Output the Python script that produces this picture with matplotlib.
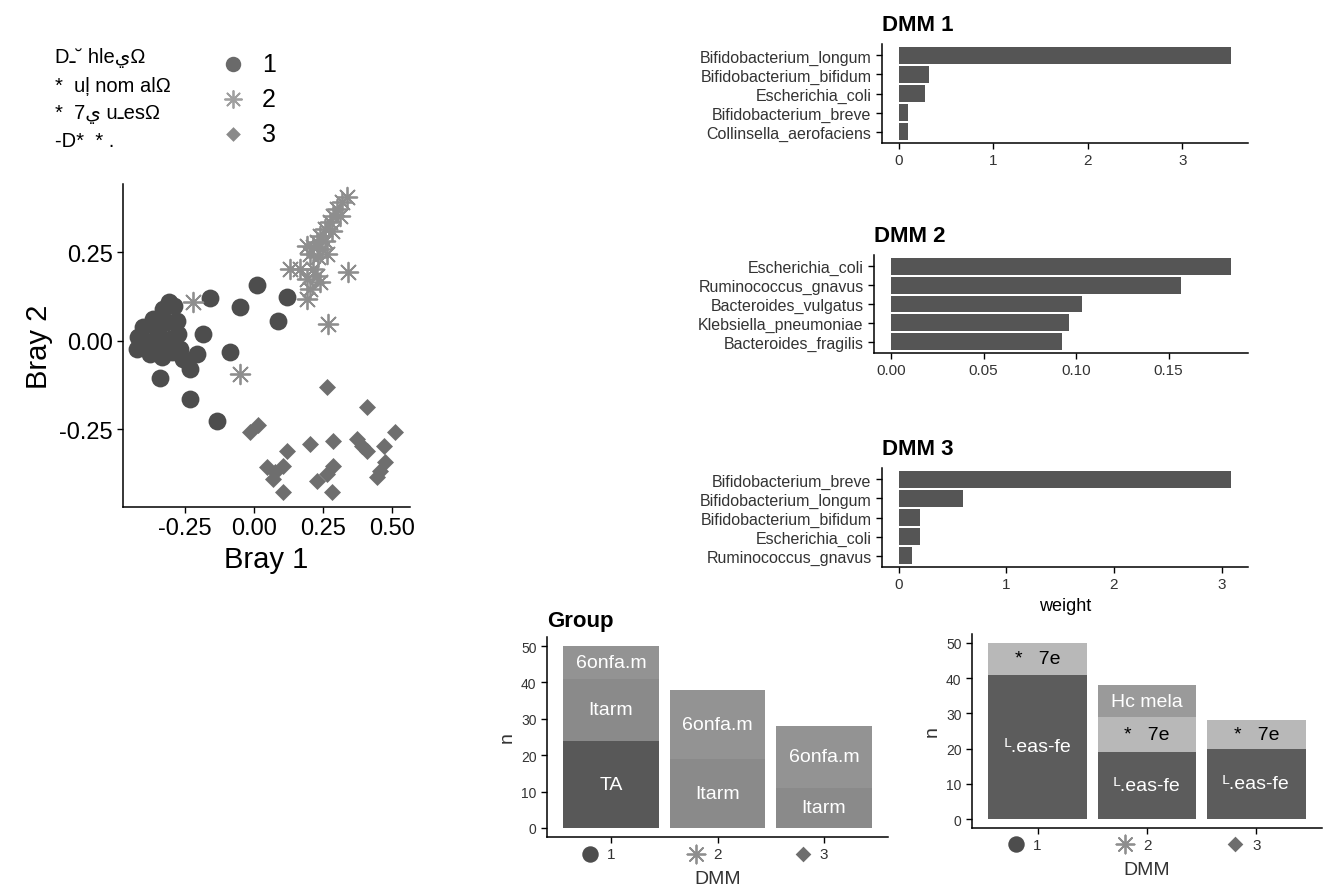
import matplotlib
matplotlib.use("Agg")
import matplotlib.pyplot as plt
import numpy as np

plt.rcParams["font.family"] = ["Liberation Sans", "DejaVu Sans"]

W, H = 1323, 895

# ordination coordinates per DMM cluster
bray1_dmm1 = [-0.419, -0.425, -0.401, -0.383, -0.377, -0.365, -0.347, -0.341, -0.335,
              -0.329, -0.316, -0.304, -0.298, -0.292, -0.280, -0.274, -0.268, -0.256,
              -0.310, 0.010, -0.159, -0.051, 0.118, 0.088, -0.184, -0.087, -0.208,
              -0.232, -0.341, -0.232, -0.135]
bray2_dmm1 = [0.010, -0.023, 0.039, -0.004, -0.037, 0.062, 0.024, -0.013, -0.046,
              0.090, 0.053, 0.006, -0.032, 0.100, 0.057, 0.020, -0.023, -0.051,
              0.109, 0.158, 0.121, 0.095, 0.123, 0.057, 0.020, -0.030, -0.037,
              -0.079, -0.105, -0.164, -0.227]
bray1_dmm2 = [0.336, 0.318, 0.300, 0.287, 0.312, 0.275, 0.257, 0.281, 0.239, 0.227,
              0.257, 0.215, 0.245, 0.203, 0.233, 0.263, 0.191, 0.130, 0.167, 0.215,
              0.191, 0.227, 0.203, 0.239, 0.342, 0.191, 0.269, -0.220, -0.051]
bray2_dmm2 = [0.406, 0.392, 0.373, 0.354, 0.354, 0.335, 0.316, 0.312, 0.298, 0.279,
              0.283, 0.265, 0.260, 0.246, 0.236, 0.246, 0.269, 0.203, 0.203, 0.203,
              0.175, 0.185, 0.147, 0.166, 0.194, 0.119, 0.048, 0.109, -0.093]
bray1_dmm3 = [0.263, 0.408, 0.016, -0.014, 0.203, 0.287, 0.372, 0.390, 0.408, 0.469,
              0.511, 0.118, 0.046, 0.076, 0.106, 0.070, 0.106, 0.227, 0.263, 0.287,
              0.281, 0.457, 0.444, 0.475]
bray2_dmm3 = [-0.131, -0.187, -0.237, -0.258, -0.291, -0.282, -0.277, -0.296, -0.310,
              -0.296, -0.258, -0.310, -0.357, -0.371, -0.352, -0.390, -0.427, -0.395,
              -0.376, -0.352, -0.427, -0.366, -0.385, -0.343]

# top taxa weights per DMM component (top to bottom)
taxa_dmm1 = ["Bifidobacterium_longum", "Bifidobacterium_bifidum", "Escherichia_coli",
             "Bifidobacterium_breve", "Collinsella_aerofaciens"]
weight_dmm1 = [3.52, 0.32, 0.28, 0.10, 0.10]
taxa_dmm2 = ["Escherichia_coli", "Ruminococcus_gnavus", "Bacteroides_vulgatus",
             "Klebsiella_pneumoniae", "Bacteroides_fragilis"]
weight_dmm2 = [0.1837, 0.1566, 0.1031, 0.0962, 0.0924]
taxa_dmm3 = ["Bifidobacterium_breve", "Bifidobacterium_longum", "Bifidobacterium_bifidum",
             "Escherichia_coli", "Ruminococcus_gnavus"]
weight_dmm3 = [3.09, 0.60, 0.20, 0.20, 0.126]

# sample counts per DMM, stacked bottom to top
dmm_levels = ["1", "2", "3"]
group_levels = ["TA", "Itarm", "6onfa.m"]
group_counts = [[24, 0, 0], [17, 19, 11], [9, 19, 17]]
group_colors = ["#585858", "#8a8a8a", "#939393"]
group_text = ["white", "white", "white"]

type_levels = ["ᴸ.eas-fe", "*   7e", "Hc mela"]
type_counts = [[41, 19, 20], [9, 10, 8], [0, 9, 0]]
type_colors = ["#5c5c5c", "#b8b8b8", "#9a9a9a"]
type_text = ["white", "black", "white"]

legend_lines = ["Dـ˘ hleيΩ", "*  uļ nom alΩ", "*  7ي uـesΩ", "-D*  * ."]

marker_kw = [dict(marker="o", s=165, color="#4d4d4d", linewidths=0),
             dict(marker=(8, 2, 0), s=200, color="#8e8e8e", linewidths=1.3),
             dict(marker="D", s=75, color="#6e6e6e", linewidths=0)]
legend_colors = ["#6a6a6a", "#a0a0a0", "#8a8a8a"]

fig = plt.figure(figsize=(W / 100, H / 100), dpi=100)


def px_axes(left, top, right, bottom):
    return fig.add_axes([left / W, 1 - bottom / H, (right - left) / W, (bottom - top) / H])


def classic(ax, size, color="black"):
    for side in ("top", "right"):
        ax.spines[side].set_visible(False)
    for side in ("left", "bottom"):
        ax.spines[side].set_linewidth(1.1)
    ax.tick_params(length=4, width=1, labelsize=size, labelcolor=color)


# ordination scatter
ax = px_axes(123, 185, 410, 508)
classic(ax, 17)
for bx, by, kw in zip([bray1_dmm1, bray1_dmm2, bray1_dmm3],
                      [bray2_dmm1, bray2_dmm2, bray2_dmm3], marker_kw):
    ax.scatter(bx, by, **kw)
ax.set_xlim(-0.475, 0.565)
ax.set_ylim(-0.469, 0.4435)
ax.set_xticks([-0.25, 0, 0.25, 0.5])
ax.set_yticks([-0.25, 0, 0.25])
ax.xaxis.set_major_formatter(matplotlib.ticker.FormatStrFormatter("%.2f"))
ax.yaxis.set_major_formatter(matplotlib.ticker.FormatStrFormatter("%.2f"))
ax.set_xlabel("Bray 1", fontsize=21)
ax.set_ylabel("Bray 2", fontsize=21)

# legend block
for i, line in enumerate(legend_lines):
    fig.text(55 / W, 1 - (58 + i * 28) / H, line, fontsize=14.5, va="center")
for i, lab in enumerate(dmm_levels):
    fig.text(262 / W, 1 - (65 + i * 35) / H, lab, fontsize=18, va="center")
lg_ax = px_axes(215, 45, 250, 150)
lg_ax.set_axis_off()
lg_ax.set_xlim(0, 1)
lg_ax.set_ylim(150, 45)
for i, kw in enumerate(marker_kw):
    kw = dict(kw, color=legend_colors[i], s=kw["s"] * 0.75)
    lg_ax.scatter([0.5], [65 + i * 35], clip_on=False, **kw)

# weight bar charts
bar_specs = [("DMM 1", taxa_dmm1, weight_dmm1, (882, 45, 1248, 144), [0, 1, 2, 3], "%d"),
             ("DMM 2", taxa_dmm2, weight_dmm2, (874, 256, 1248, 354), [0, 0.05, 0.10, 0.15], "%.2f"),
             ("DMM 3", taxa_dmm3, weight_dmm3, (882, 469, 1248, 568), [0, 1, 2, 3], "%d")]
for title, taxa, weight, rect, ticks, fmt in bar_specs:
    ax = px_axes(*rect)
    classic(ax, 11, "#333333")
    pos = np.arange(len(taxa))[::-1] + 1
    ax.barh(pos, weight, height=0.9, color="#555555")
    ax.set_yticks(pos, taxa, fontsize=11.5)
    ax.set_ylim(0.4, len(taxa) + 0.6)
    pad = max(weight) * 0.05
    ax.set_xlim(-pad, max(weight) + pad)
    ax.set_xticks(ticks)
    ax.xaxis.set_major_formatter(matplotlib.ticker.FormatStrFormatter(fmt))
    ax.set_title(title, fontsize=16, fontweight="bold", loc="left", pad=10)
    if title == "DMM 3":
        ax.set_xlabel("weight", fontsize=13)

# stacked count bars
stack_specs = [(group_levels, group_counts, group_colors, group_text, (547, 638, 888, 838), "Group"),
               (type_levels, type_counts, type_colors, type_text, (972, 635, 1322, 829), None)]
for levels, counts, colors, tcolors, rect, title in stack_specs:
    ax = px_axes(*rect)
    classic(ax, 10, "#333333")
    xpos = np.arange(1, len(dmm_levels) + 1)
    base = np.zeros(len(dmm_levels))
    for lev, cnt, col, tc in zip(levels, counts, colors, tcolors):
        cnt = np.array(cnt, dtype=float)
        ax.bar(xpos, cnt, bottom=base, width=0.9, color=col)
        for x, b, c in zip(xpos, base, cnt):
            if c > 0:
                ax.text(x, b + c / 2, lev, ha="center", va="center", color=tc, fontsize=14)
        base += cnt
    ax.set_xlim(0.4, 3.6)
    ax.set_ylim(-2.5, 52.5)
    ax.set_yticks([0, 10, 20, 30, 40, 50])
    ax.set_xticks(xpos, dmm_levels, fontsize=11)
    trans = ax.get_xaxis_transform()
    for x, kw in zip(xpos, marker_kw):
        kw = dict(kw, s=kw["s"] * 0.85)
        ax.scatter([x - 0.2], [-0.085], transform=trans, clip_on=False, **kw)
    ax.set_xlabel("DMM", fontsize=14, color="#333333", labelpad=6)
    ax.set_ylabel("n", fontsize=14, color="#333333")
    if title:
        ax.set_title(title, fontsize=16, fontweight="bold", loc="left", pad=8)

fig.savefig("out.png", dpi=100)
